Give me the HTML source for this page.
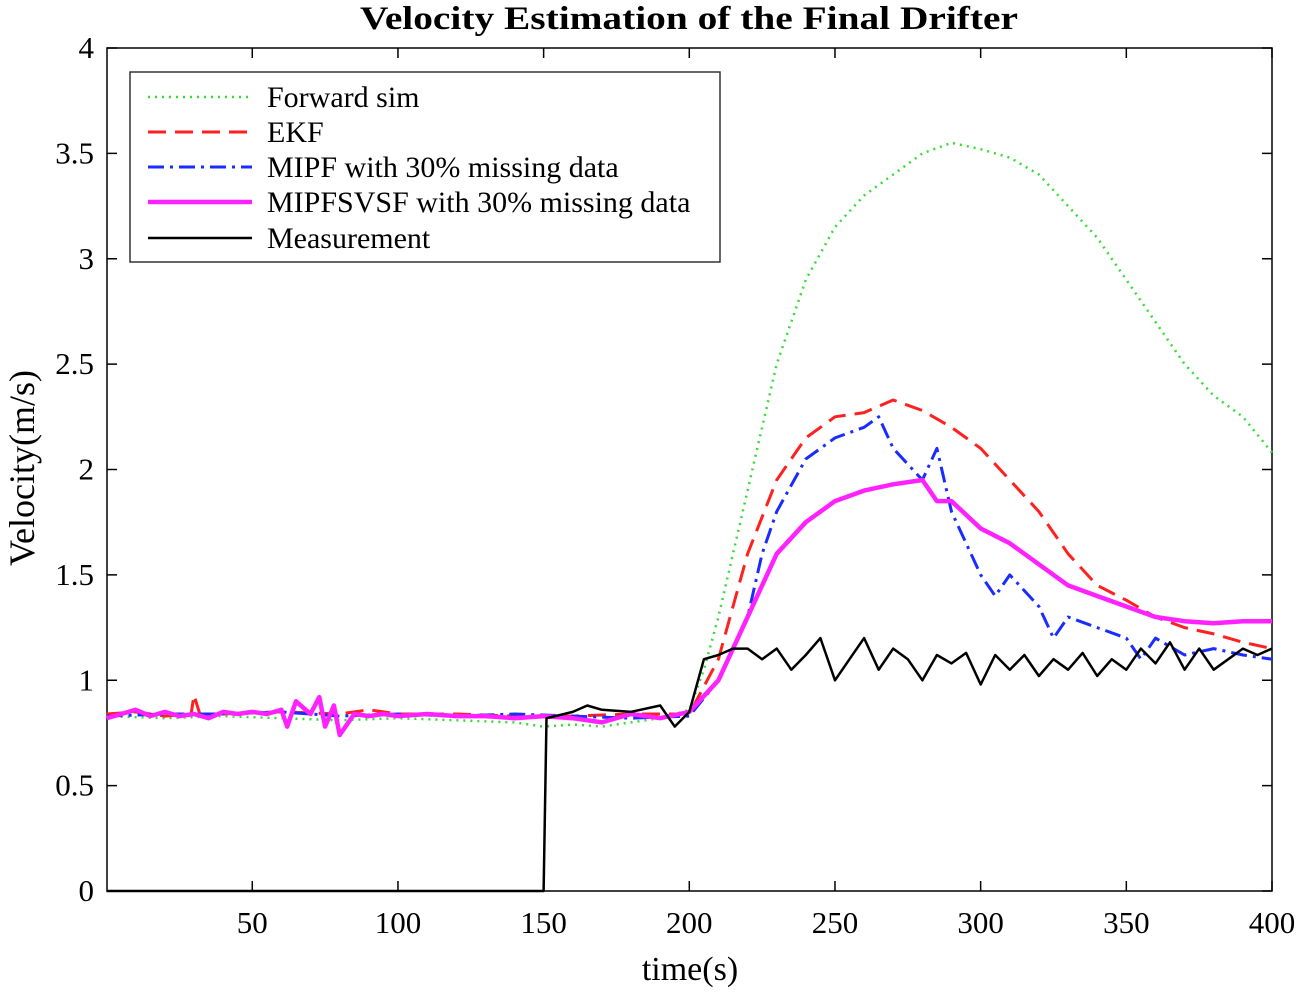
<!DOCTYPE html>
<html><head><meta charset="utf-8"><style>
body{margin:0;background:#fff}
svg text{font-family:"Liberation Serif",serif;fill:#000}
</style></head><body>
<svg id="c" width="1300" height="994" viewBox="0 0 1300 994" xmlns="http://www.w3.org/2000/svg">
<rect x="107" y="48" width="1165" height="843" fill="#fff" stroke="#000" stroke-width="1.5"/>
<g id="ticks"></g>
<g id="series"></g>
<text x="689" y="29" text-anchor="middle" font-size="33" font-weight="bold" textLength="658" lengthAdjust="spacingAndGlyphs">Velocity Estimation of the Final Drifter</text>
<text x="690" y="980" text-anchor="middle" font-size="34">time(s)</text>
<text transform="translate(34,468) rotate(-90)" text-anchor="middle" font-size="36">Velocity(m/s)</text>
<g id="legend">
<rect x="130" y="72" width="590" height="190" fill="#fff" stroke="#333" stroke-width="1.5"/>
</g>
</svg>
<script>
const xTicks=[50,100,150,200,250,300,350,400];
const yTicks=[0,0.5,1,1.5,2,2.5,3,3.5,4];
const yTickLabels=["0","0.5","1","1.5","2","2.5","3","3.5","4"];
const seriesNames=["Forward sim","EKF","MIPF with 30% missing data","MIPFSVSF with 30% missing data","Measurement"];
const fwdT=[0,20,40,60,80,100,120,140,150,160,170,180,190,200,205,210,215,220,225,230,240,250,260,270,280,290,300,310,320,330,340,350,360,370,380,390,400];
const fwdV=[0.83,0.82,0.83,0.82,0.81,0.82,0.81,0.80,0.78,0.79,0.78,0.80,0.82,0.86,1.05,1.3,1.6,1.9,2.2,2.5,2.9,3.15,3.3,3.4,3.5,3.55,3.52,3.48,3.4,3.25,3.1,2.9,2.7,2.5,2.35,2.25,2.08];
const ekfT=[0,10,20,29,30,32,40,60,80,90,100,120,140,160,180,200,210,220,230,240,250,260,270,280,290,300,310,320,330,340,350,360,370,380,390,400];
const ekfV=[0.84,0.85,0.83,0.84,0.93,0.84,0.84,0.85,0.84,0.86,0.84,0.84,0.83,0.83,0.84,0.84,1.1,1.6,1.95,2.15,2.25,2.27,2.33,2.28,2.2,2.1,1.95,1.8,1.6,1.45,1.38,1.3,1.25,1.22,1.18,1.15];
const mipfT=[0,20,40,60,80,100,120,140,160,180,200,210,220,225,230,240,250,260,265,270,280,285,290,300,305,310,320,325,330,340,350,355,360,370,380,390,400];
const mipfV=[0.83,0.84,0.84,0.85,0.83,0.84,0.83,0.84,0.83,0.82,0.83,1.0,1.3,1.6,1.8,2.05,2.15,2.2,2.25,2.1,1.95,2.1,1.8,1.5,1.4,1.5,1.35,1.2,1.3,1.25,1.2,1.1,1.2,1.12,1.15,1.12,1.1];
const svsfT=[0,5,10,15,20,25,30,35,40,45,50,55,60,62,65,70,73,75,78,80,85,90,95,100,110,120,130,140,150,160,170,180,190,200,210,220,230,240,250,260,270,280,285,290,300,310,320,330,340,350,360,370,380,390,400];
const svsfV=[0.82,0.84,0.86,0.83,0.85,0.83,0.84,0.82,0.85,0.84,0.85,0.84,0.86,0.78,0.9,0.84,0.92,0.78,0.88,0.74,0.84,0.83,0.84,0.83,0.84,0.83,0.83,0.82,0.83,0.82,0.80,0.84,0.82,0.85,1.0,1.3,1.6,1.75,1.85,1.9,1.93,1.95,1.85,1.85,1.72,1.65,1.55,1.45,1.4,1.35,1.3,1.28,1.27,1.28,1.28];
const measT=[0,150,151,160,165,170,180,190,195,200,205,210,215,220,225,230,235,240,245,250,255,260,265,270,275,280,285,290,295,300,305,310,315,320,325,330,335,340,345,350,355,360,365,370,375,380,385,390,395,400];
const measV=[0,0,0.82,0.85,0.88,0.86,0.85,0.88,0.78,0.85,1.1,1.12,1.15,1.15,1.1,1.15,1.05,1.12,1.2,1.0,1.1,1.2,1.05,1.15,1.1,1.0,1.12,1.08,1.13,0.98,1.12,1.05,1.12,1.02,1.1,1.05,1.13,1.02,1.1,1.05,1.15,1.08,1.18,1.05,1.15,1.05,1.1,1.15,1.12,1.15];
const X=t=>106.6+t*(1165.4/400);
const Y=v=>891-v*(843/4);
const NS="http://www.w3.org/2000/svg";
const tk=document.getElementById('ticks');
function mk(tag,attrs,parent){const e=document.createElementNS(NS,tag);for(const k in attrs)e.setAttribute(k,attrs[k]);parent.appendChild(e);return e;}
xTicks.forEach(t=>{
 const l=mk('line',{x1:X(t),x2:X(t),y1:891,y2:881,stroke:'#000','stroke-width':1.5},tk);
 
 
 const l2=mk('line',{x1:X(t),x2:X(t),y1:48,y2:58,stroke:'#000','stroke-width':1.5},tk);
 
 
 const s=mk('text',{x:X(t),y:933,'text-anchor':'middle','font-size':31},tk);s.textContent=t;
 
 
});
yTicks.forEach((v,i)=>{
 const l=mk('line',{x1:107,x2:117,y1:Y(v),y2:Y(v),stroke:'#000','stroke-width':1.5},tk);
 
 
 const l2=mk('line',{x1:1262,x2:1272,y1:Y(v),y2:Y(v),stroke:'#000','stroke-width':1.5},tk);
 
 
 const s=mk('text',{x:94,y:Y(v)+10,'text-anchor':'end','font-size':31},tk);s.textContent=yTickLabels[i];
 
 
});
const styles=[
 {stroke:'#33dd33',w:2.5,dash:'2 5',T:fwdT,V:fwdV,name:'forward-sim-line'},
 {stroke:'#ff2020',w:3,dash:'18 9',T:ekfT,V:ekfV,name:'ekf-line'},
 {stroke:'#1a2cff',w:3,dash:'16 6 3 6',T:mipfT,V:mipfV,name:'mipf-line'},
 {stroke:'#ff22ff',w:4.5,dash:'',T:svsfT,V:svsfV,name:'mipfsvsf-line'},
 {stroke:'#000',w:2.5,dash:'',T:measT,V:measV,name:'measurement-line'}
];
const sg=document.getElementById('series');
styles.forEach(s=>{
 const d=s.T.map((t,i)=>(i?'L':'M')+X(t).toFixed(1)+','+Y(s.V[i]).toFixed(1)).join('');
 const p=mk('path',{d:d,fill:'none',stroke:s.stroke,'stroke-width':s.w,'stroke-dasharray':s.dash,'stroke-linejoin':'round'},sg);
 
 
});
const lg=document.getElementById('legend');
const ly=[97,132,167,202,238];
styles.forEach((s,i)=>{
 const l=mk('line',{x1:148,x2:252,y1:ly[i],y2:ly[i],stroke:s.stroke,'stroke-width':s.w,'stroke-dasharray':s.dash},lg);
 
 
 const t=mk('text',{x:267,y:ly[i]+10,'font-size':30},lg);t.textContent=seriesNames[i];
 
 
});
</script>
</body></html>
